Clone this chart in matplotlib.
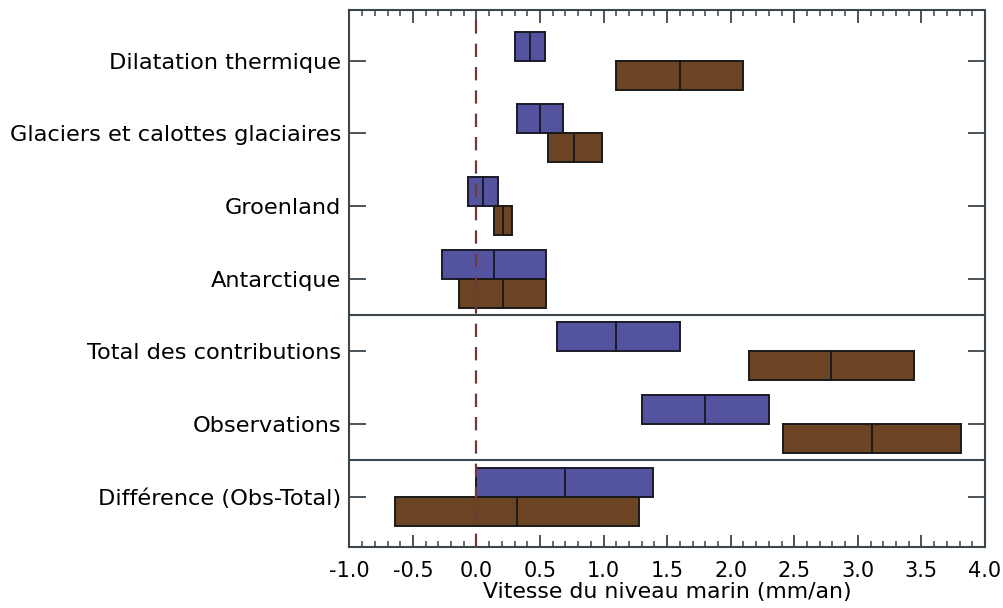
import matplotlib
matplotlib.use("Agg")
import matplotlib.pyplot as plt
from matplotlib.ticker import MultipleLocator, FixedLocator
import numpy as np

categories = ["Dilatation thermique", "Glaciers et calottes glaciaires", "Groenland",
              "Antarctique", "Total des contributions", "Observations",
              "Différence (Obs-Total)"]
# period 1961-2003 (blue): centre, low, high
p1_mid = [0.42, 0.50, 0.05, 0.14, 1.10, 1.80, 0.70]
p1_low = [0.30, 0.32, -0.07, -0.27, 0.63, 1.30, 0.00]
p1_high = [0.54, 0.68, 0.17, 0.55, 1.60, 2.30, 1.39]
# period 1993-2003 (brown)
p2_mid = [1.60, 0.77, 0.21, 0.21, 2.79, 3.11, 0.32]
p2_low = [1.10, 0.56, 0.14, -0.14, 2.14, 2.41, -0.64]
p2_high = [2.10, 0.99, 0.28, 0.55, 3.44, 3.81, 1.28]
xticks = [-1.0, -0.5, 0.0, 0.5, 1.0, 1.5, 2.0, 2.5, 3.0, 3.5, 4.0]

blue = "#5353a0"
brown = "#6b4423"
spine = "#3a454c"

fig = plt.figure(figsize=(10.04, 6.08), dpi=100)
ax = fig.add_axes([0.348, 0.1008, 0.633, 0.8828])

h = 0.4
y = np.arange(len(categories))
for i in y:
    # blue above
    ax.barh(i - h / 2, p1_high[i] - p1_low[i], left=p1_low[i], height=h,
            color=blue, edgecolor="#1a1a2a", linewidth=1.4, zorder=3)
    ax.plot([p1_mid[i], p1_mid[i]], [i - h, i], color="#1a1a2a", lw=1.4, zorder=4)
    ax.barh(i + h / 2, p2_high[i] - p2_low[i], left=p2_low[i], height=h,
            color=brown, edgecolor="#1a1a1a", linewidth=1.4, zorder=3)
    ax.plot([p2_mid[i], p2_mid[i]], [i, i + h], color="#1a1a1a", lw=1.4, zorder=4)

ax.axvline(0.0, color="#703838", lw=1.6, dashes=(6, 4.5), zorder=5)
for ys in (3.5, 5.5):
    ax.axhline(ys, color=spine, lw=1.5, zorder=2)

ax.set_xlim(-1.0, 4.0)
ax.set_ylim(6.69, -0.70)
ax.set_yticks(y)
ax.set_yticklabels(categories, fontsize=16.2)
ax.xaxis.set_major_locator(FixedLocator(xticks))
ax.set_xticklabels([f"{v:.1f}" for v in xticks], fontsize=15)
ax.xaxis.set_minor_locator(MultipleLocator(0.1))
ax.set_xlabel("Vitesse du niveau marin (mm/an)", fontsize=15.8, labelpad=1)

ax.tick_params(axis="x", which="major", direction="in", length=9, width=1.3,
               top=True, bottom=True, color=spine, pad=10)
ax.tick_params(axis="x", which="minor", direction="in", length=4.5, width=1.1,
               top=True, bottom=True, color=spine)
ax.tick_params(axis="y", which="major", direction="in", length=12, width=1.3,
               left=True, right=True, color=spine, pad=6)
for s in ax.spines.values():
    s.set_color(spine)
    s.set_linewidth(1.5)

fig.savefig("out.png", dpi=100)
